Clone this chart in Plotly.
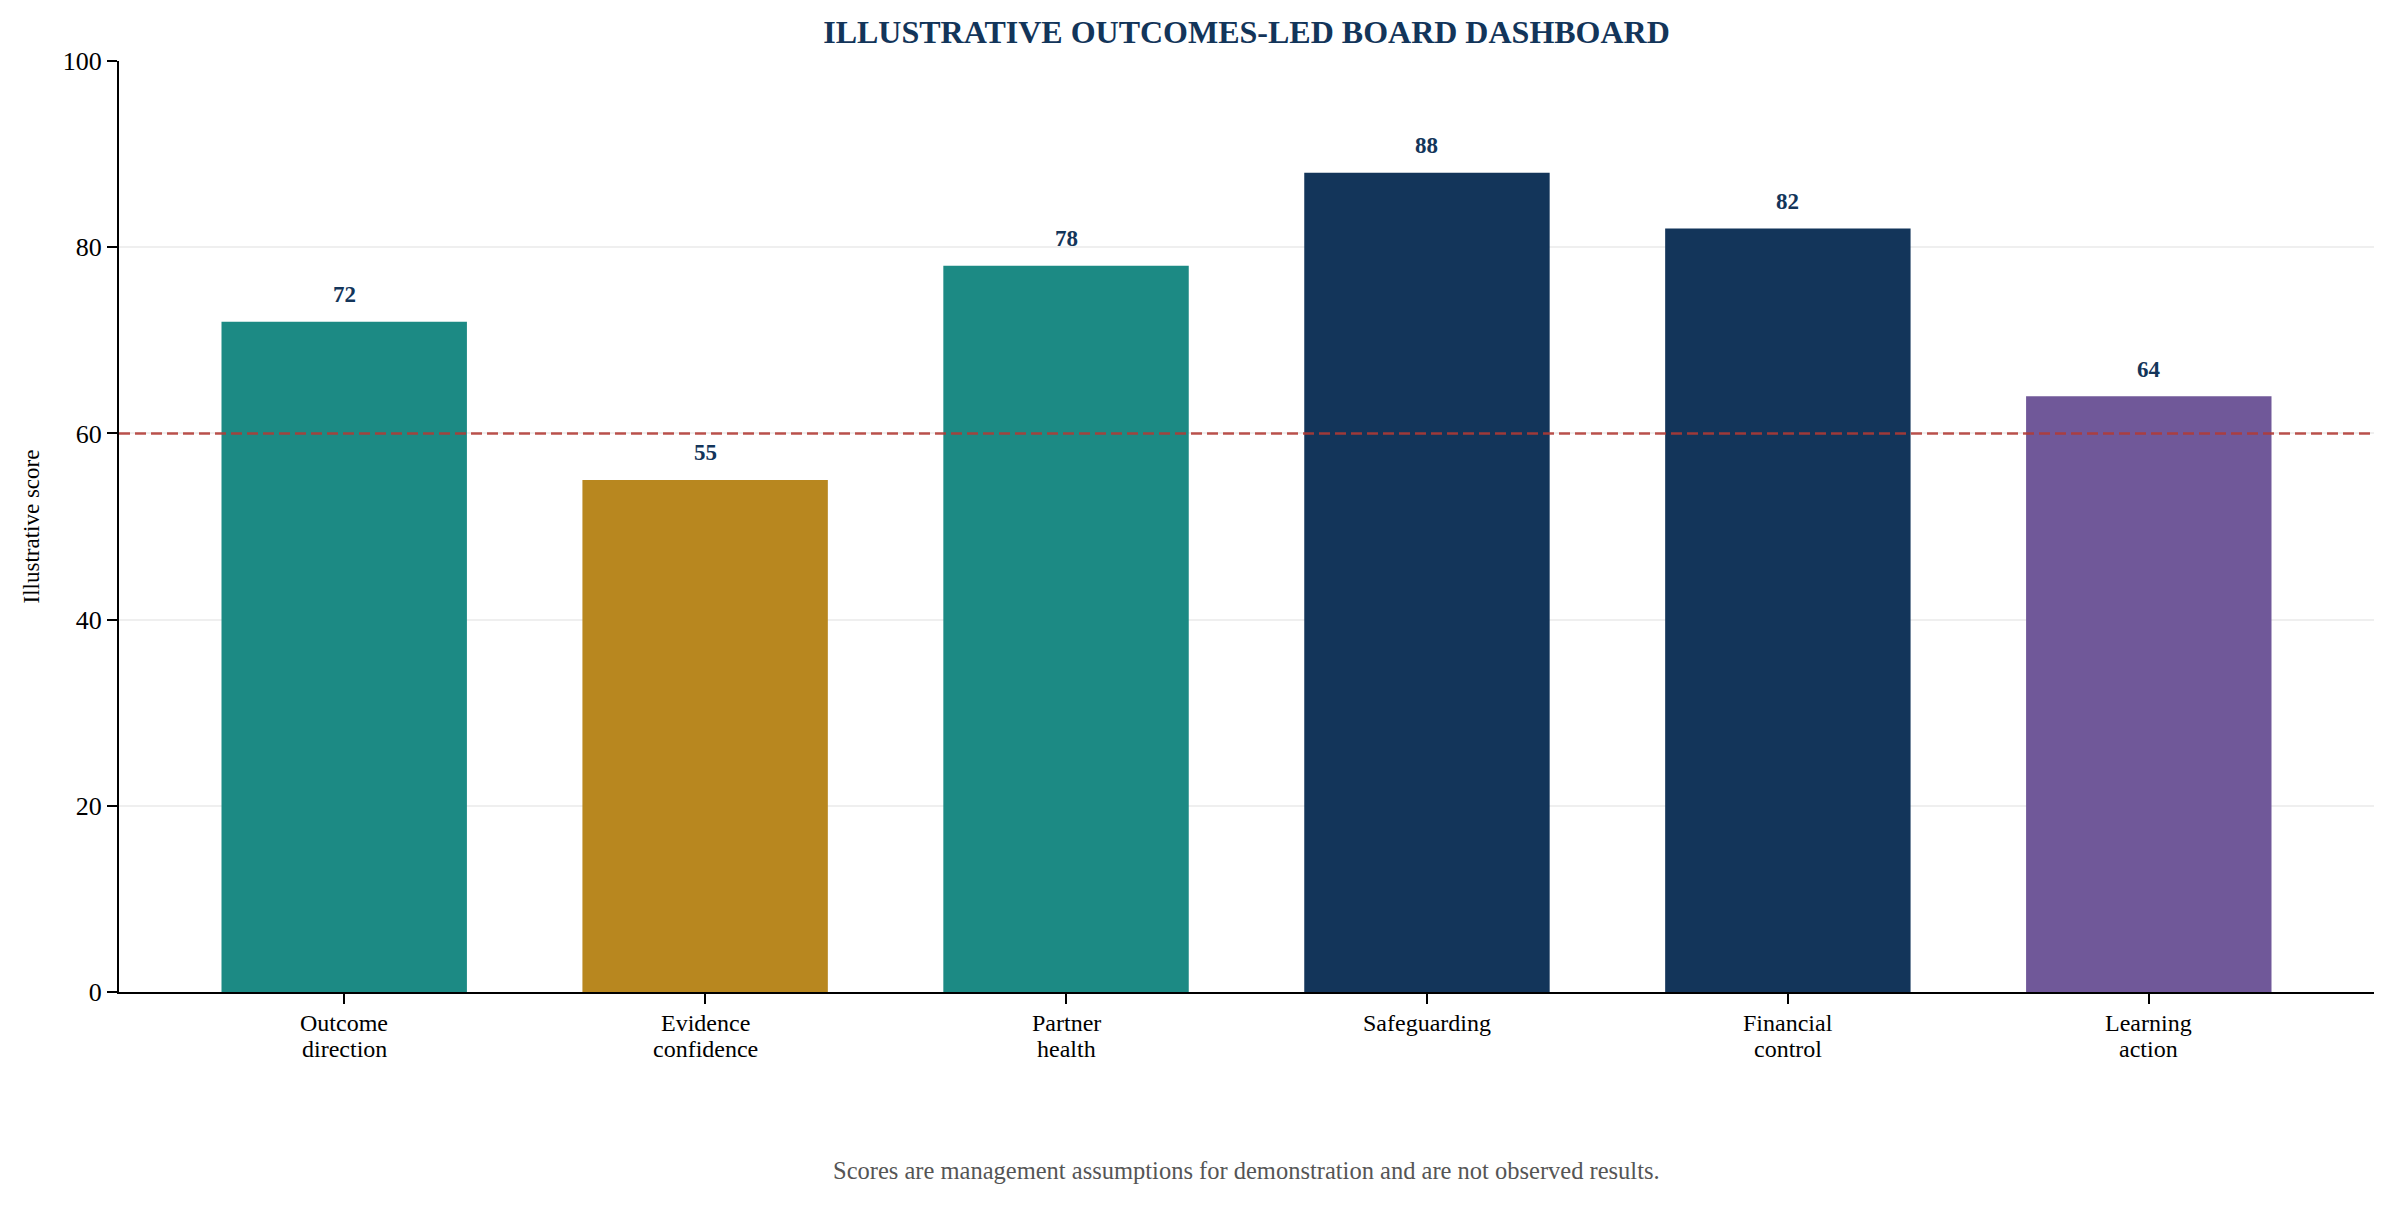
import plotly.graph_objects as go

# Dashboard values (illustrative)
categories = ['Outcome direction', 'Evidence confidence', 'Partner health',
              'Safeguarding', 'Financial control', 'Learning action']
scores = [72, 55, 78, 88, 82, 64]
bar_colors = ['#1c8a84', '#b8871f', '#1c8a84', '#13355a', '#13355a', '#705899']
threshold = 60
y_ticks = [0, 20, 40, 60, 80, 100]

FONT = 'Liberation Serif, Times New Roman, serif'
NAVY = '#13355a'

# page body has an 8px margin, so the figure is a bit smaller than the window
W, H = 2397 - 16, 1206 - 16
margin = dict(l=111, r=15, t=53, b=206)
plot_h = H - margin['t'] - margin['b']


def paper_y(px_from_top):
    # convert a pixel row (window coordinates) to paper y
    return (H - margin['b'] - (px_from_top - 8)) / plot_h


fig = go.Figure()
fig.add_trace(go.Bar(
    x=list(range(len(categories))),
    y=scores,
    width=0.68,
    marker=dict(color=bar_colors, line=dict(width=0)),
    hoverinfo='x+y',
))

# threshold line, drawn over the bars
fig.add_hline(
    y=threshold,
    line=dict(color='rgba(178,58,52,0.88)', width=2.5, dash='11px,5px'),
    layer='above',
)

# value labels above each bar
for i, v in enumerate(scores):
    fig.add_annotation(
        x=i, y=v, xref='x', yref='y',
        text=f'<b>{v}</b>', showarrow=False,
        yanchor='middle', yshift=27,
        font=dict(family=FONT, size=23, color=NAVY),
    )

# category labels, one annotation per line (tighter line spacing than <br>)
for i, c in enumerate(categories):
    for j, word in enumerate(c.split(' ')):
        fig.add_annotation(
            x=i, y=paper_y(1023 + 26 * j), xref='x', yref='paper',
            text=word, showarrow=False,
            xanchor='center', yanchor='middle',
            font=dict(family=FONT, size=24, color='black'),
        )

# y axis title
fig.add_annotation(
    x=0, y=0.5, xref='paper', yref='paper',
    xshift=-88, text='Illustrative score', textangle=-90,
    showarrow=False, xanchor='center', yanchor='middle',
    font=dict(family=FONT, size=23, color='black'),
)

# footer note
fig.add_annotation(
    x=0.5, y=paper_y(1170), xref='paper', yref='paper',
    text='Scores are management assumptions for demonstration and are not observed results.',
    showarrow=False, xanchor='center', yanchor='middle',
    font=dict(family=FONT, size=24.5, color='#555555'),
)

fig.update_layout(
    width=W, height=H,
    margin=margin,
    paper_bgcolor='white',
    plot_bgcolor='white',
    showlegend=False,
    font=dict(family=FONT, color='black'),
    title=dict(
        text='<b>ILLUSTRATIVE OUTCOMES-LED BOARD DASHBOARD</b>',
        x=0.5, xref='paper', xanchor='center',
        y=1 - 24 / H, yref='container', yanchor='middle',
        font=dict(family=FONT, size=32, color=NAVY),
    ),
    xaxis=dict(
        range=[-0.624, len(categories) - 1 + 0.624],
        tickmode='array',
        tickvals=list(range(len(categories))),
        ticktext=[''] * len(categories),
        ticks='outside', ticklen=10, tickwidth=2, tickcolor='black',
        showline=True, linecolor='black', linewidth=2,
        showgrid=False, zeroline=False,
    ),
    yaxis=dict(
        range=[0, 100],
        tickmode='array',
        tickvals=y_ticks,
        tickfont=dict(family=FONT, size=26, color='black'),
        ticks='outside', ticklen=10, tickwidth=2, tickcolor='black',
        showline=True, linecolor='black', linewidth=2,
        showgrid=True, gridcolor='rgba(180,180,180,0.22)', gridwidth=2,
        zeroline=False,
        layer='above traces',
    ),
)

fig.write_html('out.html')
